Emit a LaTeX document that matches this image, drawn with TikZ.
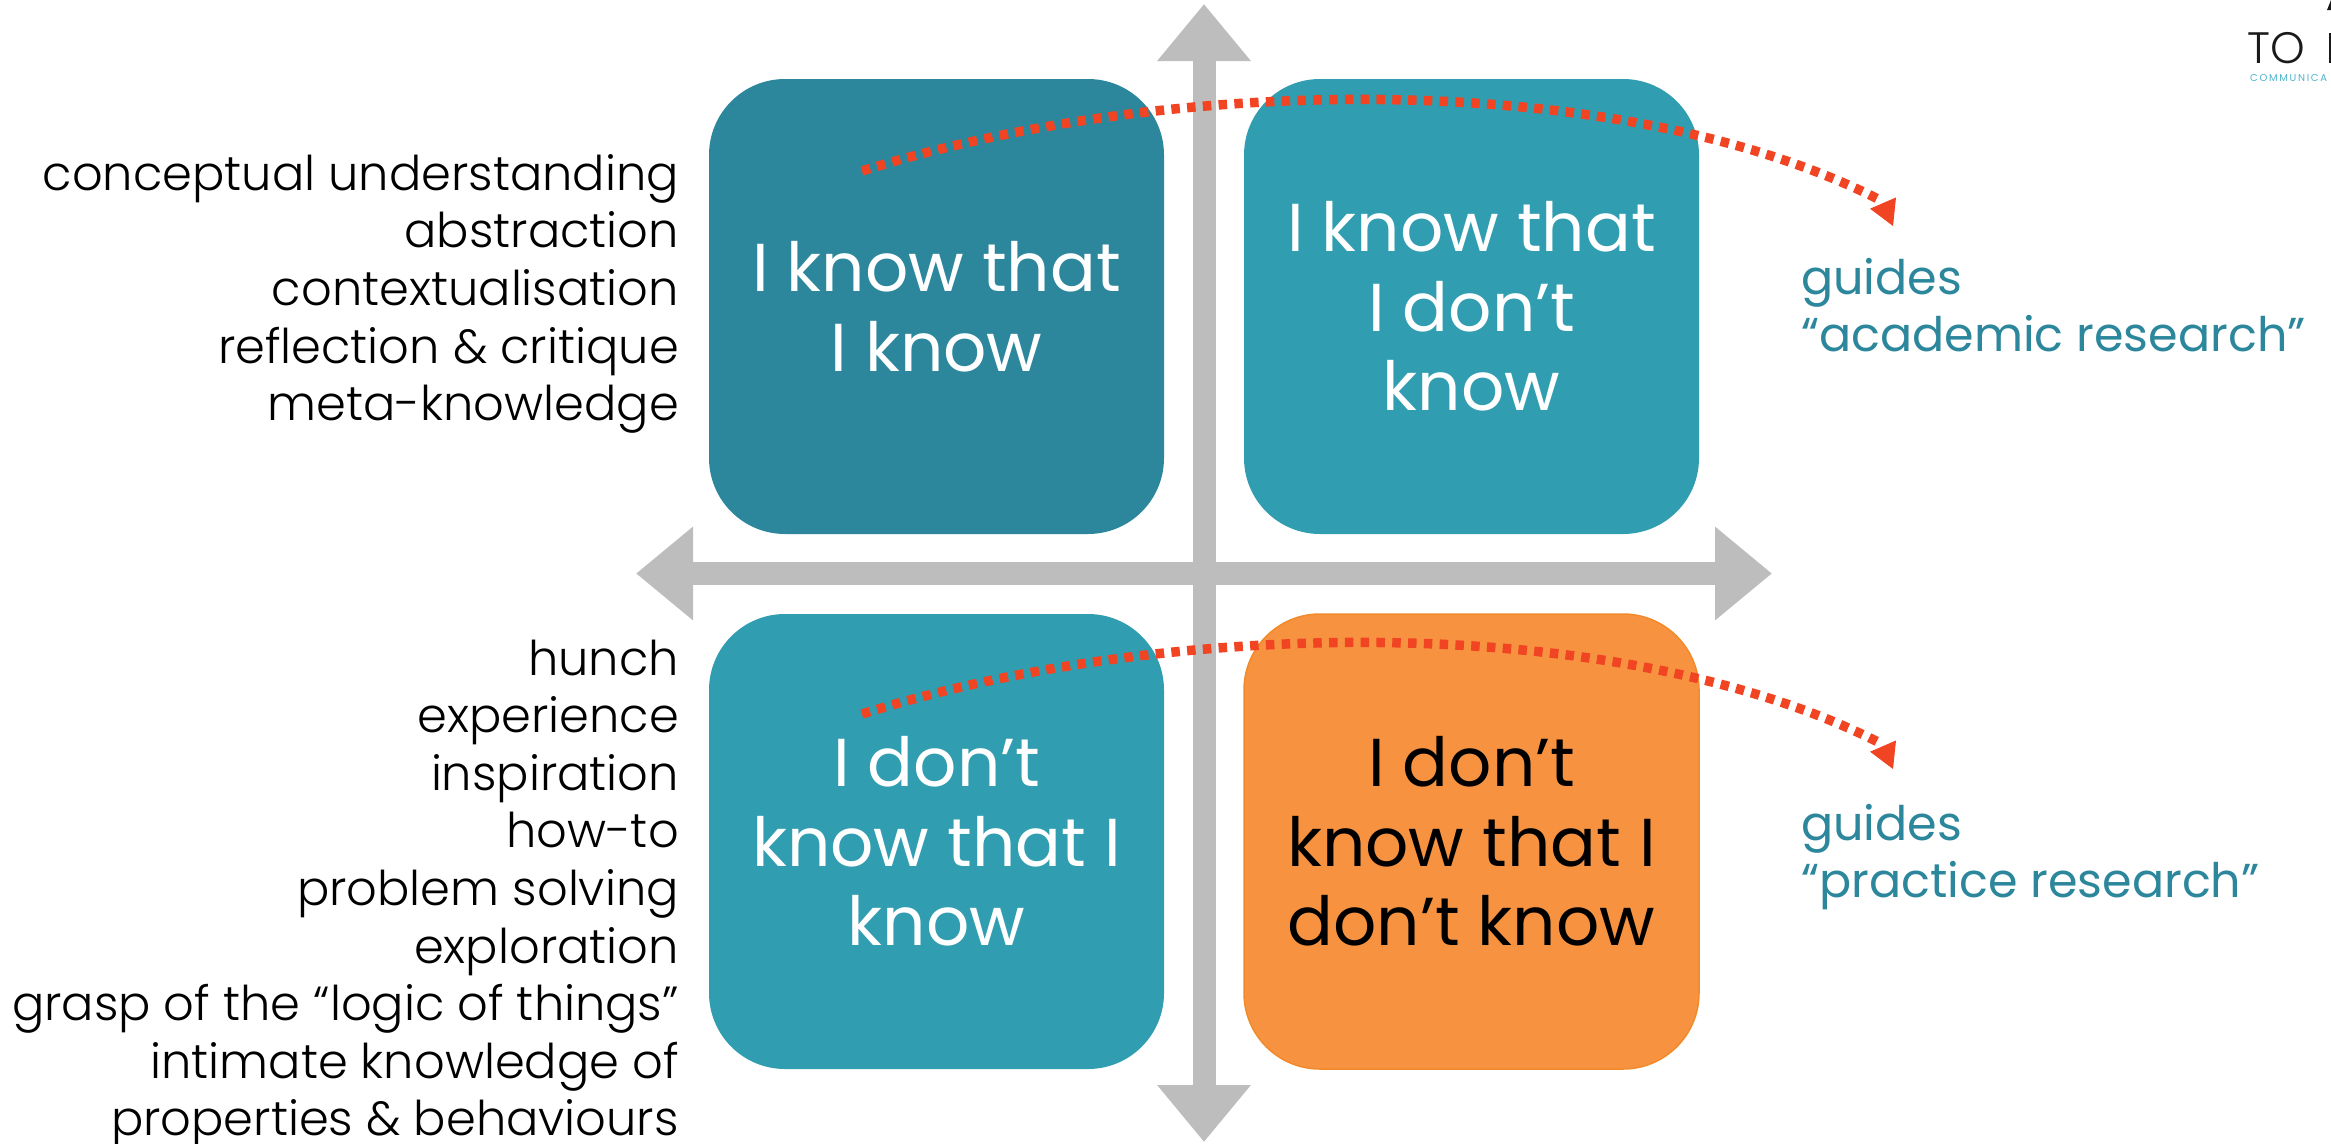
\documentclass[tikz,border=0pt]{standalone}
\usepackage{fontspec}
\setmainfont{Poppins}[UprightFont=* Light]
\newfontfamily\boxfont{Poppins}
\usetikzlibrary{arrows.meta}
\definecolor{tealdark}{HTML}{2C879C}
\definecolor{tealmid}{HTML}{309EB0}
\definecolor{logoteal}{HTML}{4DB5CC}
\definecolor{orangebox}{HTML}{F79340}
\definecolor{orangeline}{HTML}{F08A2A}
\definecolor{axisgrey}{HTML}{BDBDBD}
\definecolor{dotred}{HTML}{F04423}
\definecolor{inktext}{HTML}{1A1A1A}
\tikzset{
 quad/.style={rounded corners=76pt,minimum width=455pt,minimum height=455pt,inner sep=0pt,align=center,font=\boxfont\fontsize{67.8}{79.5}\selectfont},
 axisline/.style={draw=axisgrey,line width=23pt,{Triangle[length=57pt,width=90pt]}-{Triangle[length=57pt,width=90pt]}},
 dotpath/.style={draw=dotred,line width=9.5pt,dash pattern=on 8.5pt off 7.3pt},
 dothead/.style={draw=dotred,line width=1pt,-{Triangle[length=25pt,width=28pt]}},
 listtext/.style={align=right,inner sep=0pt,anchor=east,text=black,font=\fontsize{47.9}{57.6}\selectfont},
 guidetext/.style={align=left,inner sep=0pt,anchor=west,text=tealdark,font=\boxfont\fontsize{47.6}{57}\selectfont},
}
\begin{document}
\begin{tikzpicture}[x=1pt,y=-1pt]
\useasboundingbox (0,0) rectangle (2331,1143);
\clip (0,0) rectangle (2331,1143);
\coordinate (vtop) at (1204,4);
\coordinate (vbot) at (1204,1142);
\coordinate (hleft) at (636,573.5);
\coordinate (hright) at (1772,573.5);
\draw[axisline] (vbot) -- (vtop);
\draw[axisline] (hleft) -- (hright);
\node[quad,fill=tealdark,text=white] (tl) at (936.5,306.5) {I know that\\I know};
\node[quad,fill=tealmid,text=white] (tr) at (1471.5,306.5) {I know that\\I don’t\\know};
\node[quad,fill=tealmid,text=white] (bl) at (936.5,841.5) {I don’t\\know that I\\know};
\node[quad,fill=orangebox,draw=orangeline,line width=1.5pt,text=black] (br) at (1471.5,841.5) {I don’t\\know that I\\don’t know};
\node[listtext] (list1) at (679,294) {conceptual understanding\\abstraction\\contextualisation\\reflection \& critique\\meta-knowledge};
\node[listtext] (list2) at (679,894) {hunch\\experience\\inspiration\\how-to\\problem solving\\exploration\\grasp of the “logic of things”\\intimate knowledge of\\properties \& behaviours};
\node[guidetext] (g1) at (1801,305) {guides\\“academic research”};
\node[guidetext] (g2) at (1801,857) {guides\\“practice research”};
\coordinate (a1) at (862,171);
\coordinate (a3) at (1883,203);
\coordinate (a4) at (1880,200);
\coordinate (a2) at (1893,226);
\coordinate (b1) at (862,714);
\coordinate (b3) at (1883,746);
\coordinate (b4) at (1880,743);
\coordinate (b2) at (1893,769);
\draw[dotpath] (a1) .. controls (1170,74) and (1620,68) .. (a4);
\draw[dotpath] (b1) .. controls (1170,617) and (1620,611) .. (b4);
\draw[dothead] (a3) -- (a2);
\draw[dothead] (b3) -- (b2);
\node[anchor=base west,inner sep=0pt,text depth=0pt,text height=30pt,text=inktext,font=\fontsize{44}{44}\selectfont] (logo) at (2247,63) {TO};
\fill[inktext] (2329,33) rectangle (2331,63);
\fill[inktext] (2331,0) -- (2327,10) -- (2331,10) -- cycle;
\node[anchor=base west,inner sep=0pt,text height=7pt,text depth=0pt,text=logoteal,font=\boxfont\fontsize{10}{10}\selectfont] (logosub) at (2250,81) {C\,O\,M\,M\,U\,N\,I\,C\,A};
\end{tikzpicture}
\end{document}
